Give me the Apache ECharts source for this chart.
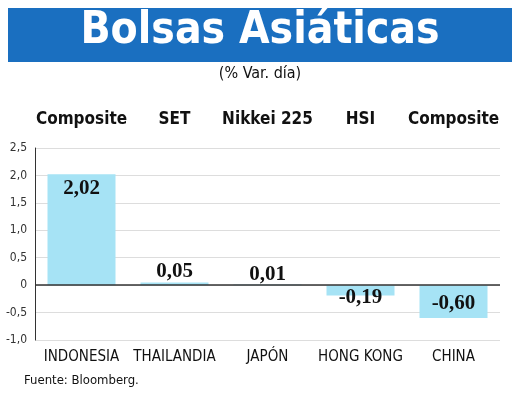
<!DOCTYPE html>
<html>
<head>
<meta charset="utf-8">
<script src="https://cdn.jsdelivr.net/npm/echarts@6/dist/echarts.min.js"></script>
<style>
  body { margin: 0; background: #fff; }
  #main { width: 520px; height: 414px; }
</style>
</head>
<body>
<div id="main"></div>
<script>
var paises = ['INDONESIA', 'THAILANDIA', 'JAPÓN', 'HONG KONG', 'CHINA'];
var indices = ['Composite', 'SET', 'Nikkei 225', 'HSI', 'Composite'];
var variacion = [2.02, 0.05, 0.01, -0.19, -0.60];
var fuente = 'Fuente: Bloomberg.';

var narrow = '"Liberation Sans Narrow", "DejaVu Sans Condensed", sans-serif';
function coma(v) { return v.toFixed(2).replace('.', ','); }

var myChart = echarts.init(document.getElementById('main'));
var option = {
    animation: false,
    graphic: [
        { type: 'rect', shape: { x: 8, y: 8, width: 504, height: 54 }, style: { fill: '#1a6fc0' } },
        { type: 'text', left: 'center', top: 10, style: { text: 'Bolsas Asiáticas', fill: '#fff', font: 'bold 44px ' + narrow } },
        { type: 'text', left: 'center', top: 66, style: { text: '(% Var. día)', fill: '#111', font: '16px ' + narrow } },
        { type: 'text', left: 24, top: 374, style: { text: fuente, fill: '#111', font: '13px ' + narrow } }
    ],
    grid: { left: 35, right: 20, top: 148, bottom: 74, containLabel: false },
    xAxis: [{
        type: 'category',
        data: paises,
        position: 'bottom',
        axisLine: { show: false },
        axisTick: { show: false },
        axisLabel: { interval: 0, margin: 10, color: '#111', fontSize: 15, fontFamily: narrow }
    }, {
        type: 'category',
        data: indices,
        position: 'top',
        axisLine: { show: false },
        axisTick: { show: false },
        axisLabel: { interval: 0, margin: 20, color: '#111', fontSize: 17, fontWeight: 'bold', fontFamily: narrow }
    }],
    yAxis: {
        type: 'value',
        min: -1, max: 2.5, interval: 0.5,
        axisLine: { show: true, lineStyle: { color: '#333' } },
        axisTick: { show: false },
        splitLine: { lineStyle: { color: '#ddd' } },
        axisLabel: {
            color: '#333', fontSize: 12, fontFamily: narrow, margin: 8,
            formatter: function (v) { return v === 0 ? '0' : v.toFixed(1).replace('.', ','); }
        }
    },
    series: [{
        type: 'bar',
        barWidth: 68,
        itemStyle: { color: '#a6e3f5' },
        label: {
            show: true,
            color: '#111',
            fontSize: 21,
            fontWeight: 'bold',
            fontFamily: '"Liberation Serif", serif',
            formatter: function (p) { return coma(p.value); }
        },
        markLine: {
            silent: true, symbol: 'none', label: { show: false },
            lineStyle: { color: '#333', type: 'solid', width: 1.5 },
            data: [{ yAxis: 0 }]
        }
    }]
};
var etiquetas = [
    { position: 'insideTop', distance: 4 },
    { position: 'top', distance: 0 },
    { position: 'top', distance: 0 },
    { position: 'bottom', distance: -8 },
    { position: 'insideTop', distance: 8 }
];
option.series[0].data = variacion.map(function (v, i) {
    return { value: v, label: etiquetas[i] };
});
myChart.setOption(option);
</script>
</body>
</html>
